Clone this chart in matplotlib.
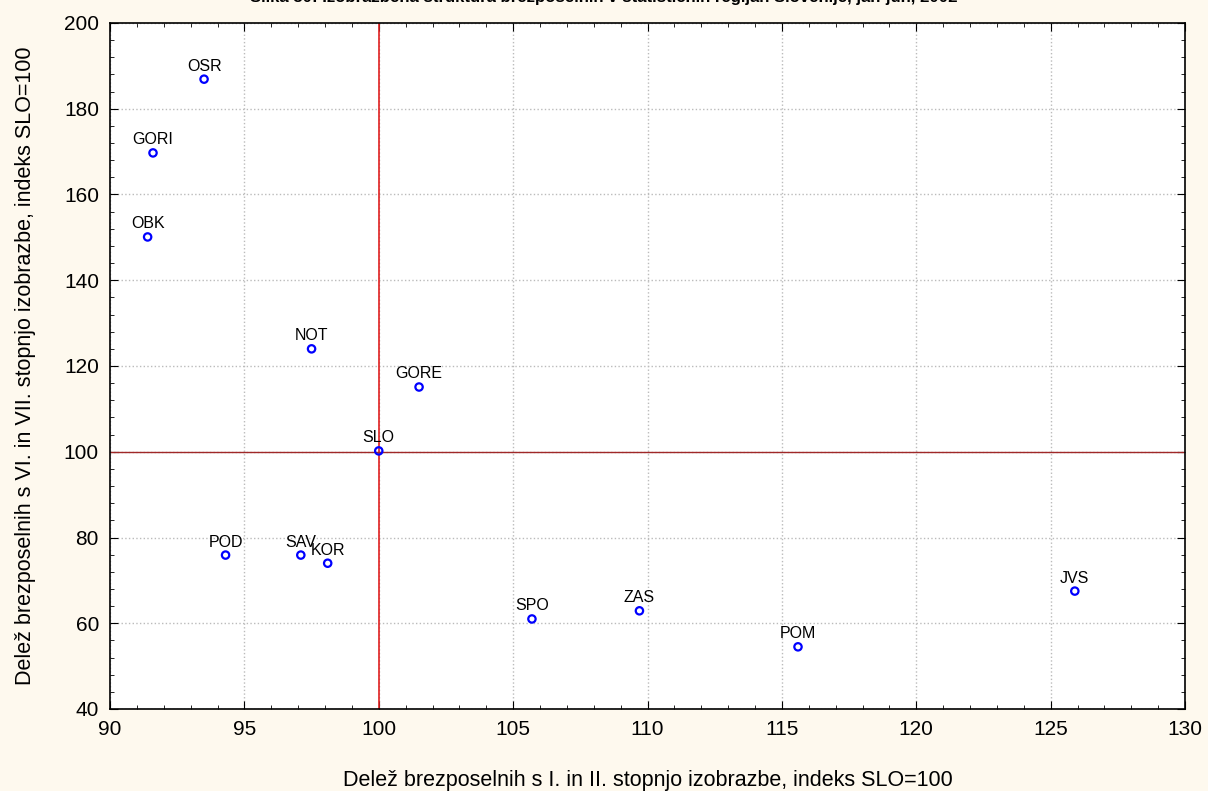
import matplotlib
matplotlib.use("Agg")
import matplotlib.pyplot as plt
from matplotlib.ticker import MultipleLocator

plt.rcParams['font.family'] = ['Liberation Sans', 'DejaVu Sans']

# regije: indeks I.+II. stopnje (x) in VI.+VII. stopnje (y), SLO=100
regions = ['OSR', 'GORI', 'OBK', 'NOT', 'GORE', 'SLO', 'POD', 'SAV', 'KOR',
           'SPO', 'ZAS', 'POM', 'JVS']
x_low = [93.5, 91.6, 91.4, 97.5, 101.5, 100.0, 94.3, 97.1, 98.1,
         105.7, 109.7, 115.6, 125.9]
y_high = [186.9, 169.7, 150.1, 124.0, 115.1, 100.2, 75.9, 75.9, 74.0,
          61.0, 62.9, 54.5, 67.5]

fig = plt.figure(figsize=(12.08, 7.91), dpi=100)
fig.patch.set_facecolor('#FEF9EE')
ax = fig.add_axes([110/1208, 1 - 709/791, (1185-110)/1208, (709-23)/791])
ax.set_facecolor('white')

ax.axvline(100, color='#E02020', lw=1.2, zorder=2)
ax.axhline(100, color='#A02828', lw=1.0, zorder=2)

ax.scatter(x_low, y_high, s=28, facecolors='none', edgecolors='#0000FF',
           linewidths=1.6, zorder=3)
for name, xv, yv in zip(regions, x_low, y_high):
    ax.annotate(name, (xv, yv), xytext=(0, 4), textcoords='offset points',
                ha='center', va='bottom', fontsize=11.5)

ax.set_xlim(90, 130)
ax.set_ylim(40, 200)
ax.xaxis.set_major_locator(MultipleLocator(5))
ax.xaxis.set_minor_locator(MultipleLocator(1))
ax.yaxis.set_major_locator(MultipleLocator(20))
ax.yaxis.set_minor_locator(MultipleLocator(4))
ax.tick_params(which='both', direction='in', top=True, right=True,
               labelsize=15, pad=8)
ax.tick_params(which='major', length=6)
ax.tick_params(which='minor', length=3)
ax.grid(True, which='major', ls=':', color='#BBBBBB', lw=1)
for s in ax.spines.values():
    s.set_linewidth(1.2)

ax.set_xlabel('Delež brezposelnih s I. in II. stopnjo izobrazbe, indeks SLO=100',
              fontsize=15.5, labelpad=22)
ax.set_ylabel('Delež brezposelnih s VI. in VII. stopnjo izobrazbe, indeks SLO=100',
              fontsize=15.5, labelpad=20)
fig.text(0.5, 1.003, 'Slika 30: Izobrazbena struktura brezposelnih v statističnih regijah Slovenije, jan-jun, 2002',
         ha='center', va='center', fontsize=12.1, fontweight='bold')

fig.savefig('out.png', dpi=100, facecolor=fig.get_facecolor())
